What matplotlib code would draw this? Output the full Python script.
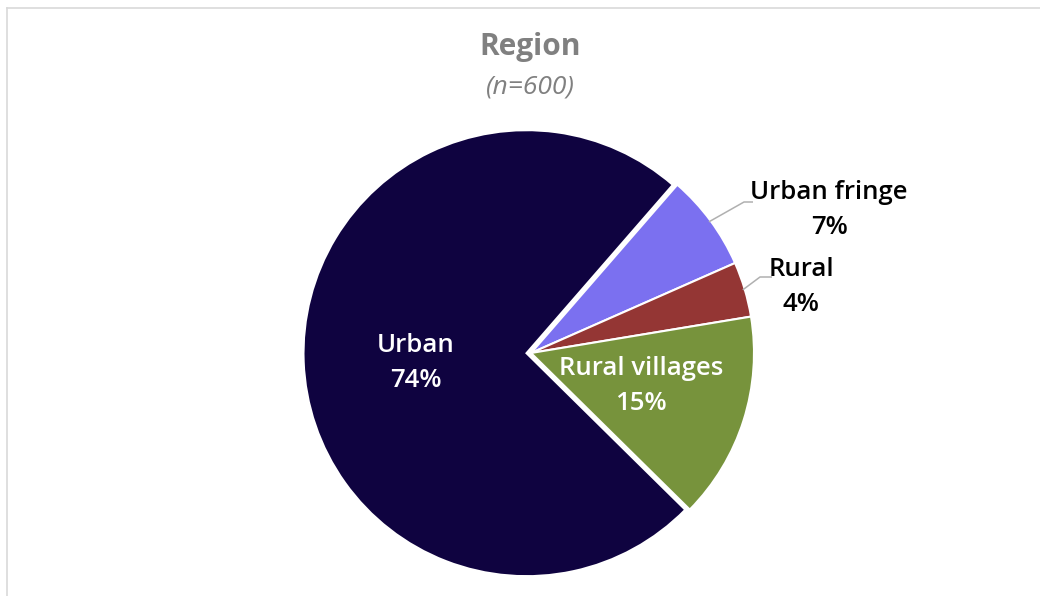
import numpy as np
import matplotlib
matplotlib.use("Agg")
import matplotlib.pyplot as plt

# Survey respondents by region (n=600)
categories = ["Urban fringe", "Rural", "Rural villages", "Urban"]
shares = [7, 4, 15, 74]
colors = ["#7b70f0", "#943634", "#77933c", "#0f0340"]
title = "Region"
subtitle = "(n=600)"

W, H = 1040, 596
fig = plt.figure(figsize=(W / 100, H / 100), dpi=100)
ax = fig.add_axes([0, 0, 1, 1])

cx, cy, R = 531, H - 353, 223
start = 49  # degrees, counter-clockwise from +x
explode = [0, 0, 0, 4.5]  # offset in data units (pixels here)

wedges, _ = ax.pie(shares, colors=colors, startangle=start, counterclock=False,
                   center=(cx, cy), radius=R, explode=explode,
                   wedgeprops=dict(edgecolor="white", linewidth=1.5))
ax.set_xlim(0, W)
ax.set_ylim(0, H)
ax.set_aspect("equal")
ax.set_axis_off()

font = "Open Sans"
label_size = 18.5
label_weight = "semibold"

# outer frame (top and left edge)
fig.add_artist(plt.Line2D([7 / W, 1], [1 - 8 / H, 1 - 8 / H], color="#d9d9d9", lw=1.2))
fig.add_artist(plt.Line2D([7 / W, 7 / W], [0, 1 - 8 / H], color="#d9d9d9", lw=1.2))

ax.text(530, H - 47, title, ha="center", va="center", fontsize=21.5,
        fontweight="bold", color="#808080", family=font)
ax.text(530, H - 87, subtitle, ha="center", va="center", fontsize=19,
        style="italic", color="#808080", family=font)

def mid_point(w, r):
    ang = np.deg2rad((w.theta1 + w.theta2) / 2)
    x0, y0 = w.center
    return x0 + r * np.cos(ang), y0 + r * np.sin(ang)

# inside labels
inside = {"Rural villages": (641, H - 386), "Urban": (416, H - 363)}
for w, name, val in zip(wedges, categories, shares):
    if name in inside:
        x, y = inside[name]
        ax.text(x, y, f"{name}\n{val}%", ha="center", va="center", fontsize=label_size,
                fontweight=label_weight, color="white", family=font, linespacing=1.5)

# outside labels with leader lines
outside = {"Urban fringe": ((829, H - 210), (744, H - 202), (753, H - 202)),
           "Rural": ((801, H - 287), (760, H - 277), (772, H - 277))}
for w, name, val in zip(wedges, categories, shares):
    if name in outside:
        (tx, ty), (kx, ky), (ex, ey) = outside[name]
        sx, sy = mid_point(w, w.r - 2)
        ax.plot([sx, kx, ex], [sy, ky, ey], color="#b0b0b0", lw=1.1,
                solid_capstyle="butt")
        ax.text(tx, ty, f"{name}\n{val}%", ha="center", va="center", fontsize=label_size,
                fontweight=label_weight, color="black", family=font, linespacing=1.5)

fig.savefig("out.png", dpi=100, facecolor="white")
